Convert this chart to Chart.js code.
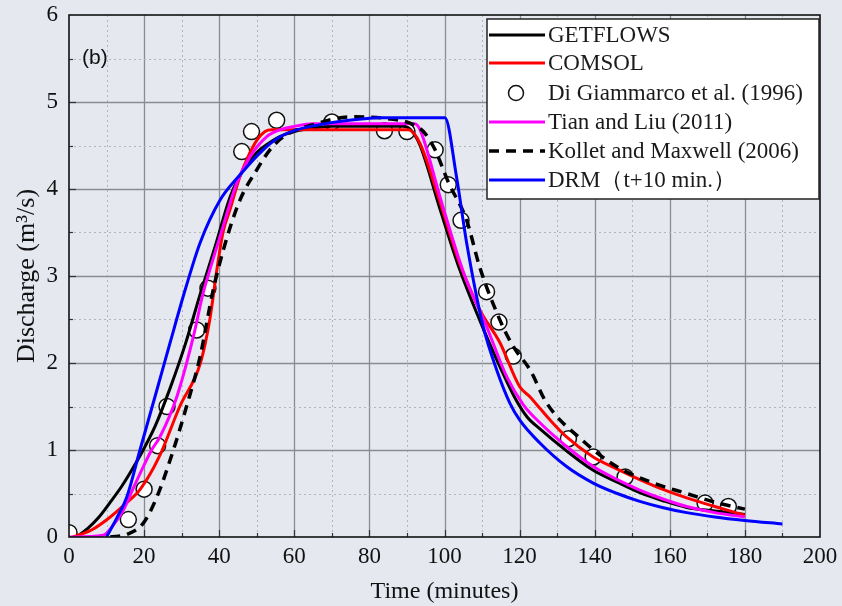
<!DOCTYPE html>
<html>
<head>
<meta charset="utf-8">
<script src="https://cdn.jsdelivr.net/npm/chart.js@4"></script>
<style>
  html, body { margin: 0; padding: 0; background: #e5e8ef; }
  #wrap { width: 842px; height: 606px; position: relative; }
</style>
</head>
<body>
<div id="wrap"><canvas id="myChart"></canvas></div>
<script>
// values (time in minutes, discharge in m3/s)
const getflowsT = [2, 5, 8, 11, 14, 17, 20, 23, 27, 31, 35, 39, 43, 47, 50, 53, 56, 60, 65, 70, 80, 89, 91, 93.5, 98.8, 104, 109.4, 114, 119, 122, 125.5, 132.5, 139.5, 146, 152, 158, 164.5, 172, 180];
const getflowsQ = [0, 0.1, 0.23, 0.4, 0.58, 0.79, 1.02, 1.28, 1.72, 2.22, 2.8, 3.35, 3.92, 4.26, 4.42, 4.52, 4.6, 4.66, 4.7, 4.72, 4.72, 4.72, 4.68, 4.5, 3.77, 3.08, 2.49, 2.03, 1.58, 1.38, 1.24, 0.99, 0.77, 0.63, 0.51, 0.42, 0.34, 0.3, 0.26];

const comsolT = [1, 6, 11, 15, 19, 24, 29.5, 35, 37.5, 39.3, 41, 43, 45.5, 48, 50, 52.2, 54, 90.4, 93.5, 98.8, 104, 109.4, 114.8, 120, 122.8, 125.4, 128, 132.5, 139.6, 146, 152, 158, 164.5, 172, 180];
const comsolQ = [0, 0.08, 0.23, 0.38, 0.55, 0.92, 1.5, 2.0, 2.5, 3.05, 3.5, 3.78, 4.14, 4.4, 4.56, 4.66, 4.68, 4.68, 4.52, 3.85, 3.15, 2.61, 2.23, 1.73, 1.61, 1.48, 1.35, 1.15, 0.92, 0.78, 0.66, 0.55, 0.45, 0.35, 0.25];

const obsT = [0, 15.8, 20, 23.6, 26.1, 34, 37, 46, 48.6, 55.3, 70, 84, 90, 97.5, 101, 104.4, 111.2, 114.5, 118.3, 133, 139.6, 148.1, 169.4, 175.6];
const obsQ = [0.05, 0.2, 0.55, 1.05, 1.5, 2.38, 2.86, 4.43, 4.66, 4.79, 4.77, 4.67, 4.66, 4.45, 4.05, 3.64, 2.82, 2.47, 2.08, 1.13, 0.92, 0.69, 0.39, 0.35];

const tianT = [0, 9, 11.5, 14.5, 17, 19.8, 22, 24.2, 28.7, 33.1, 35.7, 37.5, 40.2, 44.7, 48.2, 52.6, 56.2, 60, 65, 92, 93.5, 98.8, 105, 111.2, 116.6, 121, 125, 132.5, 139.6, 146, 152, 158, 164.5, 172, 180];
const tianQ = [0, 0.02, 0.12, 0.31, 0.55, 0.81, 1.0, 1.15, 1.61, 2.3, 2.8, 3.07, 3.45, 4.07, 4.37, 4.6, 4.68, 4.72, 4.75, 4.75, 4.68, 3.91, 3.05, 2.42, 1.84, 1.52, 1.33, 1.04, 0.81, 0.66, 0.54, 0.44, 0.35, 0.28, 0.23];

const kollettT = [11, 15.4, 19.8, 23.4, 27.8, 31.3, 34.9, 38.4, 41.1, 45.5, 50, 53.5, 57.1, 65, 75.6, 84.6, 91.7, 94.8, 97.5, 101, 105.9, 109.4, 114.8, 118.3, 122.8, 127.2, 137, 145.8, 155.6, 164.5, 172, 180];
const kollettQ = [0, 0.03, 0.16, 0.46, 1.0, 1.5, 2.07, 2.84, 3.3, 3.87, 4.22, 4.45, 4.6, 4.74, 4.83, 4.81, 4.74, 4.64, 4.45, 4.08, 3.64, 3.1, 2.49, 2.19, 1.92, 1.54, 1.1, 0.81, 0.62, 0.5, 0.4, 0.32];

const drmT = [10, 12.5, 15.4, 18.9, 23.4, 26.9, 31, 34.9, 40.2, 45.5, 51.7, 56.2, 60.6, 69.5, 79.3, 82, 100.1, 103.2, 105.9, 110.3, 113.9, 117.4, 120.1, 125.4, 132.5, 139.6, 146, 152, 158, 164.5, 172, 180, 190];
const drmQ = [0, 0.2, 0.46, 1.0, 1.69, 2.23, 2.85, 3.38, 3.87, 4.16, 4.45, 4.6, 4.68, 4.76, 4.81, 4.82, 4.82, 4.14, 3.38, 2.42, 1.92, 1.54, 1.34, 1.08, 0.81, 0.62, 0.5, 0.41, 0.34, 0.28, 0.23, 0.19, 0.15];

const xTicks = [0, 20, 40, 60, 80, 100, 120, 140, 160, 180, 200];
const yTicks = [0, 1, 2, 3, 4, 5, 6];

const toPts = (ts, qs) => ts.map((t, i) => ({ x: t, y: qs[i] }));

const serif = "'Liberation Serif', 'Times New Roman', serif";

// grid, inner tick marks and frame
const gridPlugin = {
  id: "gridPlugin",
  beforeDatasetsDraw(chart) {
    const { ctx, chartArea: a, scales: { x, y } } = chart;
    ctx.save();
    for (let v = 10; v < 200; v += 10) {
      const px = Math.round(x.getPixelForValue(v)) + 0.5;
      const major = v % 20 === 0;
      ctx.beginPath();
      ctx.setLineDash(major ? [] : [2, 3]);
      ctx.strokeStyle = major ? "#8a8c91" : "#b2b5bb";
      ctx.lineWidth = major ? 1.3 : 1;
      ctx.moveTo(px, a.top);
      ctx.lineTo(px, a.bottom);
      ctx.stroke();
    }
    for (let v = 0.5; v < 6; v += 0.5) {
      const py = Math.round(y.getPixelForValue(v)) + 0.5;
      const major = v % 1 === 0;
      ctx.beginPath();
      ctx.setLineDash(major ? [] : [2, 3]);
      ctx.strokeStyle = major ? "#8a8c91" : "#b2b5bb";
      ctx.lineWidth = major ? 1.3 : 1;
      ctx.moveTo(a.left, py);
      ctx.lineTo(a.right, py);
      ctx.stroke();
    }
    ctx.setLineDash([]);
    ctx.strokeStyle = "#333";
    ctx.lineWidth = 1.2;
    for (let v = 10; v < 200; v += 10) {
      const px = Math.round(x.getPixelForValue(v)) + 0.5;
      const len = v % 20 === 0 ? 7 : 4;
      ctx.beginPath();
      ctx.moveTo(px, a.bottom);
      ctx.lineTo(px, a.bottom - len);
      ctx.stroke();
    }
    for (let v = 0.5; v < 6; v += 0.5) {
      const py = Math.round(y.getPixelForValue(v)) + 0.5;
      const len = v % 1 === 0 ? 7 : 4;
      ctx.beginPath();
      ctx.moveTo(a.left, py);
      ctx.lineTo(a.left + len, py);
      ctx.stroke();
    }
    ctx.restore();
  },
  afterDatasetsDraw(chart) {
    const { ctx, chartArea: a } = chart;
    ctx.save();
    ctx.strokeStyle = "#111";
    ctx.lineWidth = 1.6;
    ctx.strokeRect(a.left, a.top, a.right - a.left, a.bottom - a.top);
    ctx.fillStyle = "#111";
    ctx.font = "21px 'Liberation Sans', Arial, sans-serif";
    ctx.textBaseline = "middle";
    ctx.fillText("(b)", a.left + 13, 58);
    ctx.restore();
  },
};

// legend box inside the plot, upper right
const legendOrder = [0, 1, 5, 2, 3, 4];
const legendPlugin = {
  id: "boxLegend",
  afterDraw(chart) {
    const { ctx } = chart;
    const left = 487, top = 19, w = 332, h = 180;
    ctx.save();
    ctx.fillStyle = "#ffffff";
    ctx.fillRect(left, top, w, h);
    ctx.strokeStyle = "#222";
    ctx.lineWidth = 1.5;
    ctx.strokeRect(left, top, w, h);
    const rows = [35, 63, 93, 122, 151, 180];
    ctx.font = "23px " + serif;
    ctx.textBaseline = "middle";
    legendOrder.forEach((di, i) => {
      const ds = chart.data.datasets[di];
      const cy = rows[i];
      if (ds.showLine === false) {
        ctx.beginPath();
        ctx.arc(516, cy, 7.5, 0, Math.PI * 2);
        ctx.fillStyle = "#fff";
        ctx.fill();
        ctx.lineWidth = 1.5;
        ctx.strokeStyle = "#111";
        ctx.stroke();
      } else {
        ctx.beginPath();
        ctx.setLineDash(ds.borderDash || []);
        ctx.strokeStyle = ds.borderColor;
        ctx.lineWidth = ds.borderWidth;
        ctx.moveTo(489, cy);
        ctx.lineTo(545, cy);
        ctx.stroke();
        ctx.setLineDash([]);
      }
      ctx.fillStyle = "#1a1a1a";
      ctx.fillText(ds.label, 548, cy + 1);
    });
    ctx.restore();
  },
};

const lineDs = (label, pts, color, order, extra) =>
  Object.assign({
    label: label,
    data: pts,
    borderColor: color,
    backgroundColor: color,
    borderWidth: 3,
    pointRadius: 0,
    fill: false,
    cubicInterpolationMode: "monotone",
    order: order,
  }, extra || {});

const ctx = document.getElementById("myChart").getContext("2d");
const myChart = new Chart(ctx, {
  type: "line",
  data: {
    datasets: [
      lineDs("GETFLOWS", toPts(getflowsT, getflowsQ), "#000000", 4),
      lineDs("COMSOL", toPts(comsolT, comsolQ), "#ff0000", 3),
      lineDs("Tian and Liu (2011)", toPts(tianT, tianQ), "#ff00ff", 2),
      lineDs("Kollet and Maxwell (2006)", toPts(kollettT, kollettQ), "#000000", 1, { borderDash: [10, 7], borderWidth: 3.5 }),
      lineDs("DRM\uFF08t+10 min.\uFF09", toPts(drmT, drmQ), "#0000ff", 0),
      {
        label: "Di Giammarco et al. (1996)",
        data: toPts(obsT, obsQ),
        showLine: false,
        pointRadius: 8,
        pointBackgroundColor: "#ffffff",
        pointBorderColor: "#111111",
        pointBorderWidth: 1.5,
        order: 10,
      },
    ],
  },
  options: {
    responsive: true,
    maintainAspectRatio: false,
    animation: false,
    layout: { padding: { top: 15, right: 22, left: 0, bottom: 0 } },
    plugins: {
      legend: { display: false },
      tooltip: { enabled: false },
    },
    scales: {
      x: {
        type: "linear",
        min: 0,
        max: 200,
        afterBuildTicks: (s) => { s.ticks = xTicks.map((v) => ({ value: v })); },
        afterFit: (s) => { s.height = 69; s.paddingLeft = 0; s.paddingRight = 0; },
        ticks: { font: { family: serif, size: 23 }, color: "#111", padding: 6, maxRotation: 0, autoSkip: false },
        grid: { display: false, drawTicks: false },
        border: { display: false },
        title: { display: true, text: "Time (minutes)", font: { family: serif, size: 24 }, color: "#111", padding: { top: 0, bottom: 0 } },
      },
      y: {
        type: "linear",
        min: 0,
        max: 6,
        afterBuildTicks: (s) => { s.ticks = yTicks.map((v) => ({ value: v })); },
        afterFit: (s) => { s.width = 69; s.paddingTop = 0; s.paddingBottom = 0; },
        ticks: { font: { family: serif, size: 23 }, color: "#111", padding: 11 },
        grid: { display: false, drawTicks: false },
        border: { display: false },
        title: { display: true, text: "Discharge (m\u00B3/s)", font: { family: serif, size: 26 }, color: "#111", padding: { top: 12, bottom: 0 } },
      },
    },
  },
  plugins: [gridPlugin, legendPlugin],
});
</script>
</body>
</html>
